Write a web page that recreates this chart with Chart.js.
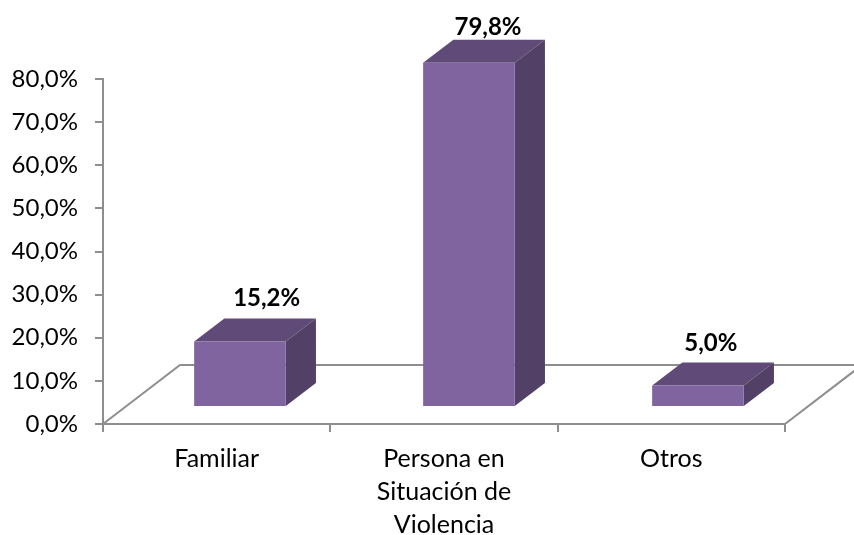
<!DOCTYPE html>
<html>
<head>
<meta charset="utf-8">
<style>
html,body{margin:0;padding:0;background:#fff}
#wrap{width:854px;height:535px;position:relative}
</style>
<script src="https://cdn.jsdelivr.net/npm/chart.js@4"></script>
</head>
<body>
<div id="wrap"><canvas id="c" width="854" height="535"></canvas></div>
<script>
const categories = [["Familiar"], ["Persona en", "Situación de", "Violencia"], ["Otros"]];
const values = [15.2, 79.8, 5.0];
const FONT = "Lato, 'Open Sans', sans-serif";
const LINE = "#8e8e8e";
const pct = v => Number(v).toFixed(1).replace(".", ",") + "%";

const box3d = {
  id: "box3d",
  beforeDatasetsDraw(chart, args, o) {
    const ctx = chart.ctx, a = chart.chartArea;
    ctx.save();
    ctx.strokeStyle = LINE;
    ctx.lineWidth = 2;
    ctx.beginPath();
    ctx.moveTo(a.left, a.bottom);
    ctx.lineTo(a.left + o.floorDx, a.bottom - o.floorDy);
    ctx.lineTo(a.right + o.floorDx, a.bottom - o.floorDy);
    ctx.lineTo(a.right, a.bottom);
    ctx.stroke();
    ctx.restore();
    ctx.save();
    ctx.translate(o.shiftX, -o.shiftY);
    ctx.scale(o.stretchX, 1);
    chart.getDatasetMeta(0).data.forEach(bar => {
      const l = bar.x - bar.width / 2, r = bar.x + bar.width / 2, t = bar.y, b = bar.base;
      ctx.fillStyle = o.topColor;
      ctx.beginPath();
      ctx.moveTo(l, t);
      ctx.lineTo(l + o.dx, t - o.dy);
      ctx.lineTo(r + o.dx, t - o.dy);
      ctx.lineTo(r, t);
      ctx.closePath();
      ctx.fill();
      ctx.fillStyle = o.sideColor;
      ctx.beginPath();
      ctx.moveTo(r, t);
      ctx.lineTo(r + o.dx, t - o.dy);
      ctx.lineTo(r + o.dx, b - o.dy);
      ctx.lineTo(r, b);
      ctx.closePath();
      ctx.fill();
    });
  },
  afterDatasetsDraw(chart, args, o) {
    const ctx = chart.ctx;
    ctx.restore();
    ctx.save();
    ctx.font = "bold " + o.labelSize + "px " + FONT;
    ctx.fillStyle = "#000";
    ctx.textAlign = "center";
    ctx.textBaseline = "middle";
    chart.getDatasetMeta(0).data.forEach((bar, i) => {
      const s = o.labelShift[i];
      ctx.fillText(pct(values[i]), bar.x + s[0], bar.y + s[1]);
    });
    ctx.restore();
  }
};

new Chart(document.getElementById("c"), {
  type: "bar",
  data: {
    labels: categories,
    datasets: [{
      data: values,
      backgroundColor: "#8064a0",
      borderWidth: 0,
      barPercentage: 0.8,
      categoryPercentage: 0.5,
      clip: false
    }]
  },
  plugins: [box3d],
  options: {
    responsive: false,
    animation: false,
    layout: { padding: { top: 79, right: 69, left: 0, bottom: 0 } },
    plugins: {
      legend: { display: false },
      tooltip: { enabled: false },
      box3d: {
        floorDx: 77, floorDy: 59,
        shiftX: 21.7, shiftY: 17, stretchX: 1.0073,
        dx: 30, dy: 23,
        topColor: "#604a78",
        sideColor: "#534066",
        labelSize: 24,
        labelShift: [[50, -60], [44, -53], [39.5, -59]]
      }
    },
    scales: {
      x: {
        afterFit: s => { s.height = 111; },
        grid: { drawOnChartArea: false, color: LINE, lineWidth: 2, tickLength: 8, offset: true },
        border: { color: LINE, width: 2 },
        ticks: { color: "#000", font: { family: FONT, size: 25, lineHeight: 1.32 }, padding: 10, maxRotation: 0, autoSkip: false }
      },
      y: {
        min: 0, max: 80,
        afterFit: s => { s.width = 103; },
        grid: { drawOnChartArea: false, color: LINE, lineWidth: 2, tickLength: 8 },
        border: { color: LINE, width: 2 },
        ticks: { stepSize: 10, color: "#000", font: { family: FONT, size: 24 }, padding: 17, callback: pct }
      }
    }
  }
});
</script>
</body>
</html>
